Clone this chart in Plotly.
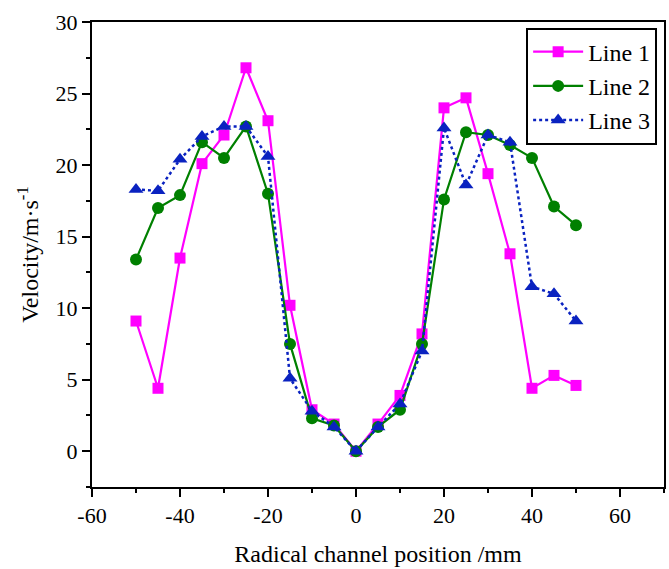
import plotly.graph_objects as go

x = [-50, -45, -40, -35, -30, -25, -20, -15, -10, -5, 0, 5, 10, 15, 20, 25, 30, 35, 40, 45, 50]
line1 = [9.1, 4.4, 13.5, 20.1, 22.1, 26.8, 23.1, 10.2, 2.9, 1.9, 0.0, 1.9, 3.9, 8.2, 24.0, 24.7, 19.4, 13.8, 4.4, 5.3, 4.6]
line2 = [13.4, 17.0, 17.9, 21.6, 20.5, 22.7, 18.0, 7.5, 2.3, 1.8, 0.0, 1.7, 2.9, 7.5, 17.6, 22.3, 22.1, 21.4, 20.5, 17.1, 15.8]
line3 = [18.3, 18.2, 20.4, 22.0, 22.7, 22.7, 20.6, 5.1, 2.8, 1.7, 0.0, 1.7, 3.3, 7.0, 22.6, 18.6, 22.1, 21.6, 11.5, 11.0, 9.1]

x_tickvals = [-60, -40, -20, 0, 20, 40, 60]
x_ticktext = ["-60", "-40", "-20", "0", "20", "40", "60"]
y_tickvals = [0, 5, 10, 15, 20, 25, 30]
y_ticktext = ["0", "5", "10", "15", "20", "25", "30"]

FONT = "Liberation Serif"

fig = go.Figure()
fig.add_trace(go.Scatter(x=x, y=line1, name="Line 1", mode="lines+markers",
                         line=dict(color="#ff00ff", width=2.2),
                         marker=dict(symbol="square", size=11, color="#ff00ff")))
fig.add_trace(go.Scatter(x=x, y=line2, name="Line 2", mode="lines+markers",
                         line=dict(color="#008000", width=2.2),
                         marker=dict(symbol="circle", size=12, color="#008000")))
fig.add_trace(go.Scatter(x=x, y=line3, name="Line 3", mode="lines+markers",
                         line=dict(color="#0a22c0", width=2.5, dash="dot"),
                         marker=dict(symbol="triangle-up", size=13, color="#0a22c0")))

axis_common = dict(showline=True, linecolor="black", linewidth=2, mirror=True,
                   ticks="outside", ticklen=8, tickwidth=2, tickcolor="black",
                   showgrid=False, zeroline=False,
                   tickfont=dict(family=FONT, size=22, color="black"))

fig.update_xaxes(range=[-60, 70], tickmode="array", tickvals=x_tickvals, ticktext=x_ticktext,
                 minor=dict(ticks="outside", ticklen=4, tickwidth=2, tickcolor="black",
                            tickmode="linear", tick0=-60, dtick=10),
                 title=dict(text="Radical channel position /mm", font=dict(family=FONT, size=24, color="black"),
                            standoff=18),
                 **axis_common)
fig.update_yaxes(range=[-2.5, 30], tickmode="array", tickvals=y_tickvals, ticktext=y_ticktext,
                 minor=dict(ticks="outside", ticklen=4, tickwidth=2, tickcolor="black",
                            tickmode="linear", tick0=0, dtick=2.5),
                 title=dict(text="Velocity/m·s<sup>-1</sup>", font=dict(family=FONT, size=24, color="black"),
                            standoff=10),
                 **axis_common)

fig.update_layout(
    width=669, height=569,
    margin=dict(l=92, r=3, t=22, b=82),
    plot_bgcolor="white", paper_bgcolor="white",
    font=dict(family=FONT, color="black"),
    legend=dict(x=0.988, y=0.988, xanchor="right", yanchor="top",
                bordercolor="black", borderwidth=2, bgcolor="white",
                font=dict(family=FONT, size=24, color="black"),
                tracegroupgap=0, itemwidth=50),
)

fig.write_html("out.html")
